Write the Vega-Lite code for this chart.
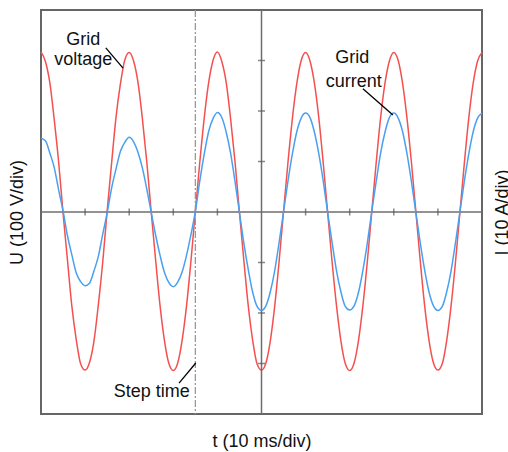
{
  "$schema": "https://vega.github.io/schema/vega-lite/v6.json",
  "width": 441,
  "height": 404,
  "autosize": {"type": "none"},
  "padding": {"left": 41, "top": 10, "right": 26, "bottom": 38},
  "background": "white",
  "config": {
    "font": "Liberation Sans",
    "view": {"stroke": "#666666", "strokeWidth": 2},
    "axis": {"titleFont": "Liberation Sans", "titleFontWeight": "normal", "titleFontSize": 18, "titleColor": "#111111", "labels": false, "ticks": false, "domain": false, "grid": false}
  },
  "datasets": {
    "one": [{"origin": 0}],
    "wave": [
      {"t": -50, "u": 317, "i": 14.6}, {"t": -49, "u": 298, "i": 14.1}, {"t": -48, "u": 256, "i": 11.7}, {"t": -47, "u": 183, "i": 8.8}, {"t": -46, "u": 99, "i": 4.4},
      {"t": -45, "u": -2, "i": 0.2}, {"t": -44, "u": -95, "i": -4.7}, {"t": -43, "u": -187, "i": -8.5}, {"t": -42, "u": -253, "i": -12.1}, {"t": -41, "u": -301, "i": -13.8},
      {"t": -40, "u": -313, "i": -14.6}, {"t": -39, "u": -298, "i": -14.1}, {"t": -38, "u": -256, "i": -11.7}, {"t": -37, "u": -184, "i": -8.8}, {"t": -36, "u": -99, "i": -4.4},
      {"t": -35, "u": 2, "i": -0.2}, {"t": -34, "u": 96, "i": 4.7}, {"t": -33, "u": 187, "i": 8.5}, {"t": -32, "u": 253, "i": 12.0}, {"t": -31, "u": 301, "i": 13.8},
      {"t": -30, "u": 316, "i": 14.8}, {"t": -29, "u": 299, "i": 13.9}, {"t": -28, "u": 256, "i": 11.8}, {"t": -27, "u": 184, "i": 8.7}, {"t": -26, "u": 98, "i": 4.5},
      {"t": -25, "u": -1, "i": -0.1}, {"t": -24, "u": -96, "i": -4.6}, {"t": -23, "u": -186, "i": -8.6}, {"t": -22, "u": -255, "i": -12.0}, {"t": -21, "u": -300, "i": -14.0},
      {"t": -20, "u": -314, "i": -14.8}, {"t": -19, "u": -299, "i": -13.9}, {"t": -18, "u": -254, "i": -11.9}, {"t": -17, "u": -186, "i": -8.6}, {"t": -16, "u": -97, "i": -4.5},
      {"t": -15, "u": 1, "i": 0.1}, {"t": -14, "u": 98, "i": 6.1}, {"t": -13, "u": 185, "i": 11.4}, {"t": -12, "u": 255, "i": 15.9}, {"t": -11, "u": 300, "i": 18.5},
      {"t": -10, "u": 317, "i": 19.7}, {"t": -9, "u": 298, "i": 18.7}, {"t": -8, "u": 256, "i": 15.8}, {"t": -7, "u": 184, "i": 11.6}, {"t": -6, "u": 99, "i": 6.0},
      {"t": -5, "u": -1, "i": -0.1}, {"t": -4, "u": -96, "i": -6.2}, {"t": -3, "u": -186, "i": -11.4}, {"t": -2, "u": -254, "i": -15.9}, {"t": -1, "u": -301, "i": -18.7},
      {"t": 0, "u": -313, "i": -19.5}, {"t": 1, "u": -299, "i": -18.6}, {"t": 2, "u": -255, "i": -15.8}, {"t": 3, "u": -186, "i": -11.6}, {"t": 4, "u": -97, "i": -6.0},
      {"t": 5, "u": 1, "i": 0.1}, {"t": 6, "u": 98, "i": 6.1}, {"t": 7, "u": 185, "i": 11.5}, {"t": 8, "u": 254, "i": 15.9}, {"t": 9, "u": 300, "i": 18.6},
      {"t": 10, "u": 316, "i": 19.6}, {"t": 11, "u": 299, "i": 18.7}, {"t": 12, "u": 255, "i": 15.8}, {"t": 13, "u": 186, "i": 11.5}, {"t": 14, "u": 97, "i": 6.1},
      {"t": 15, "u": -1, "i": -0.1}, {"t": 16, "u": -98, "i": -6.0}, {"t": 17, "u": -185, "i": -11.6}, {"t": 18, "u": -255, "i": -15.8}, {"t": 19, "u": -300, "i": -18.7},
      {"t": 20, "u": -314, "i": -19.4}, {"t": 21, "u": -299, "i": -18.6}, {"t": 22, "u": -254, "i": -15.9}, {"t": 23, "u": -185, "i": -11.5}, {"t": 24, "u": -98, "i": -6.1},
      {"t": 25, "u": 0, "i": 0.1}, {"t": 26, "u": 97, "i": 6.0}, {"t": 27, "u": 186, "i": 11.6}, {"t": 28, "u": 255, "i": 15.8}, {"t": 29, "u": 299, "i": 18.7},
      {"t": 30, "u": 316, "i": 19.6}, {"t": 31, "u": 300, "i": 18.6}, {"t": 32, "u": 254, "i": 15.9}, {"t": 33, "u": 185, "i": 11.5}, {"t": 34, "u": 98, "i": 6.0},
      {"t": 35, "u": 1, "i": -0.1}, {"t": 36, "u": -97, "i": -6.1}, {"t": 37, "u": -186, "i": -11.5}, {"t": 38, "u": -255, "i": -15.9}, {"t": 39, "u": -299, "i": -18.6},
      {"t": 40, "u": -313, "i": -19.5}, {"t": 41, "u": -300, "i": -18.7}, {"t": 42, "u": -254, "i": -15.8}, {"t": 43, "u": -185, "i": -11.6}, {"t": 44, "u": -98, "i": -6.0},
      {"t": 45, "u": 0, "i": 0.1}, {"t": 46, "u": 97, "i": 6.1}, {"t": 47, "u": 186, "i": 11.5}, {"t": 48, "u": 255, "i": 15.9}, {"t": 49, "u": 299, "i": 18.6},
      {"t": 50, "u": 316, "i": 19.6}
    ],
    "hticks": [{"t": -40}, {"t": -30}, {"t": -20}, {"t": -10}, {"t": 10}, {"t": 20}, {"t": 30}, {"t": 40}],
    "vticks": [{"v": -300}, {"v": -200}, {"v": -100}, {"v": 100}, {"v": 200}, {"v": 300}],
    "labels": [
      {"label": "Grid", "t": -40.4, "v": 331},
      {"label": "voltage", "t": -40.4, "v": 292},
      {"label": "Grid", "t": 20.6, "v": 295},
      {"label": "current", "t": 20.9, "v": 248},
      {"label": "Step time", "t": -24.9, "v": -366}
    ],
    "leaders": [
      {"t1": -35.3, "v1": 325, "t2": -31.4, "v2": 285},
      {"t1": 23.0, "v1": 244, "t2": 29.8, "v2": 192},
      {"t1": -18.7, "v1": -339, "t2": -14.9, "v2": -299}
    ]
  },
  "resolve": {"scale": {"y": "independent"}},
  "layer": [
    {
      "data": {"name": "wave"},
      "mark": {"type": "line", "color": "#f45050", "strokeWidth": 1.5, "interpolate": "monotone"},
      "encoding": {
        "x": {"field": "t", "type": "quantitative", "scale": {"domain": [-50, 50], "nice": false, "zero": false}, "axis": {"orient": "bottom", "title": "t (10 ms/div)", "titlePadding": 18}},
        "y": {"field": "u", "type": "quantitative", "scale": {"domain": [-400, 400], "nice": false}, "axis": {"orient": "left", "title": "U (100 V/div)", "titlePadding": 15}}
      }
    },
    {
      "data": {"name": "one"},
      "mark": {"type": "rule", "color": "#6e6e6e", "strokeWidth": 1.5},
      "encoding": {"y": {"field": "origin", "type": "quantitative", "scale": {"domain": [-400, 400], "nice": false}, "axis": null}}
    },
    {
      "data": {"name": "one"},
      "mark": {"type": "rule", "color": "#6e6e6e", "strokeWidth": 1.5},
      "encoding": {"x": {"field": "origin", "type": "quantitative", "axis": {"orient": "bottom", "title": "t (10 ms/div)", "titlePadding": 18}}}
    },
    {
      "data": {"name": "one"},
      "mark": {"type": "rule", "color": "#9a9a9a", "strokeWidth": 1.3, "strokeDash": [7, 2, 2, 2]},
      "encoding": {"x": {"datum": -15, "type": "quantitative", "axis": {"orient": "bottom", "title": "t (10 ms/div)", "titlePadding": 18}}}
    },
    {
      "data": {"name": "hticks"},
      "mark": {"type": "tick", "orient": "vertical", "size": 7, "thickness": 1.5, "color": "#555555"},
      "encoding": {
        "x": {"field": "t", "type": "quantitative", "axis": {"orient": "bottom", "title": "t (10 ms/div)", "titlePadding": 18}},
        "y": {"datum": 0, "type": "quantitative", "scale": {"domain": [-400, 400], "nice": false}, "axis": null}
      }
    },
    {
      "data": {"name": "vticks"},
      "mark": {"type": "tick", "orient": "horizontal", "size": 7, "thickness": 1.5, "color": "#555555"},
      "encoding": {
        "x": {"datum": 0, "type": "quantitative", "axis": {"orient": "bottom", "title": "t (10 ms/div)", "titlePadding": 18}},
        "y": {"field": "v", "type": "quantitative", "scale": {"domain": [-400, 400], "nice": false}, "axis": null}
      }
    },
    {
      "data": {"name": "wave"},
      "mark": {"type": "line", "color": "#4aa0f0", "strokeWidth": 1.5, "interpolate": "monotone"},
      "encoding": {
        "x": {"field": "t", "type": "quantitative", "axis": {"orient": "bottom", "title": "t (10 ms/div)", "titlePadding": 18}},
        "y": {"field": "i", "type": "quantitative", "scale": {"domain": [-40, 40], "nice": false}, "axis": {"orient": "right", "title": "I (10 A/div)", "titleAngle": 270, "titleBaseline": "top", "titlePadding": 11}}
      }
    },
    {
      "data": {"name": "leaders"},
      "mark": {"type": "rule", "color": "#000000", "strokeWidth": 1.3},
      "encoding": {
        "x": {"field": "t1", "type": "quantitative", "axis": {"orient": "bottom", "title": "t (10 ms/div)", "titlePadding": 18}},
        "y": {"field": "v1", "type": "quantitative", "scale": {"domain": [-400, 400], "nice": false}, "axis": null},
        "x2": {"field": "t2"},
        "y2": {"field": "v2"}
      }
    },
    {
      "data": {"name": "labels"},
      "mark": {"type": "text", "fontSize": 18, "align": "center", "baseline": "alphabetic", "color": "#111111", "font": "Liberation Sans"},
      "encoding": {
        "x": {"field": "t", "type": "quantitative", "axis": {"orient": "bottom", "title": "t (10 ms/div)", "titlePadding": 18}},
        "y": {"field": "v", "type": "quantitative", "scale": {"domain": [-400, 400], "nice": false}, "axis": null},
        "text": {"field": "label"}
      }
    }
  ]
}
